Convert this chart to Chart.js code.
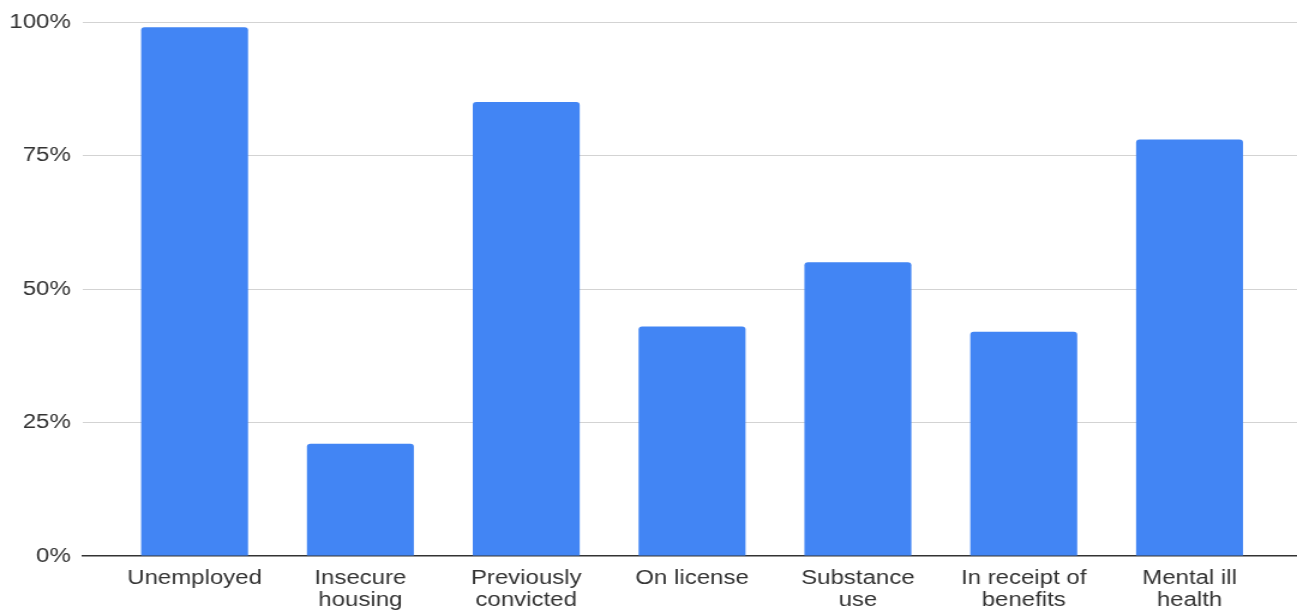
<!DOCTYPE html>
<html>
<head>
<meta charset="utf-8">
<script src="https://cdn.jsdelivr.net/npm/chart.js@4/dist/chart.umd.min.js"></script>
<style>
  html, body { margin: 0; padding: 0; background: #ffffff; overflow: hidden; }
  #chart { display: block; }
</style>
</head>
<body>
<canvas id="chart" width="1081" height="612" style="width:1297px;height:612px;"></canvas>
<script>
// Share of people with each circumstance (percent)
const categories = [
  'Unemployed',
  ['Insecure', 'housing'],
  ['Previously', 'convicted'],
  'On license',
  ['Substance', 'use'],
  ['In receipt of', 'benefits'],
  ['Mental ill', 'health']
];
const percentages = [99, 21, 85, 43, 55, 42, 78];
const yTicks = [0, 25, 50, 75, 100];

const FONT = 'Liberation Sans, Arial, Helvetica, sans-serif';
const TEXT = '#333333';

new Chart(document.getElementById('chart'), {
  type: 'bar',
  data: {
    labels: categories,
    datasets: [{
      data: percentages,
      backgroundColor: '#4285F4',
      borderWidth: 0,
      borderRadius: 3,
      categoryPercentage: 1,
      barPercentage: 0.645
    }]
  },
  options: {
    responsive: false,
    devicePixelRatio: 1,
    animation: false,
    layout: { padding: { left: 8, top: 16, right: 0, bottom: 0 } },
    plugins: { legend: { display: false }, tooltip: { enabled: false } },
    scales: {
      x: {
        grid: { display: false, drawTicks: false },
        border: { display: true, color: '#333333', width: 1.5 },
        ticks: {
          color: TEXT,
          padding: 11,
          maxRotation: 0,
          autoSkip: false,
          font: { family: FONT, size: 20, lineHeight: 1.1 }
        },
        // widen the category band so the plot runs edge to edge
        afterBuildTicks: (s) => { s._startValue = -0.674; s._valueRange = 7.322; },
        afterFit: (s) => { s.height = 56; }
      },
      y: {
        min: 0,
        max: 100,
        afterBuildTicks: (s) => { s.ticks = yTicks.map(v => ({ value: v })); },
        afterFit: (s) => { s.width = 61; },
        grid: {
          drawTicks: false,
          color: (ctx) => (ctx.tick && ctx.tick.value === 0) ? 'rgba(0,0,0,0)' : '#d3d3d3',
          lineWidth: 1
        },
        border: { display: false },
        ticks: {
          color: TEXT,
          padding: 10,
          font: { family: FONT, size: 20 },
          callback: (v) => v + '%'
        }
      }
    }
  }
});
</script>
</body>
</html>
